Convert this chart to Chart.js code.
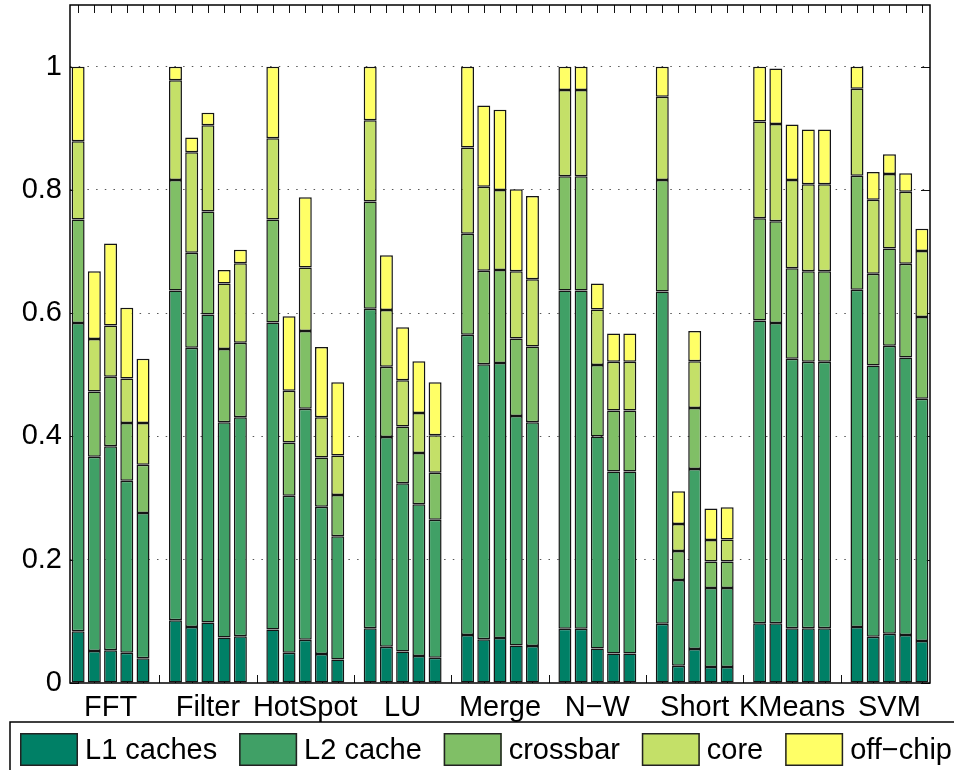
<!DOCTYPE html>
<html>
<head>
<meta charset="utf-8">
<title>Energy breakdown</title>
<script src="https://cdn.jsdelivr.net/npm/chart.js@4.4.1/dist/chart.umd.min.js"></script>
<style>
  html, body { margin: 0; padding: 0; background: #fff; }
  canvas { display: block; }
</style>
</head>
<body>
<canvas id="energyChart" width="954" height="770"></canvas>
<script>
// benchmarks, five configurations (bars) each
const benchmarks = ['FFT', 'Filter', 'HotSpot', 'LU', 'Merge', 'N\u2212W', 'Short', 'KMeans', 'SVM'];
const barsPerGroup = 5;
const yTicks = [0, 0.2, 0.4, 0.6, 0.8, 1];

const seriesNames = ['L1 caches', 'L2 cache', 'crossbar', 'core', 'off\u2212chip'];
const seriesColors = ['#008066', '#40a066', '#80bf66', '#c4e068', '#ffff66'];

// stacked segment heights, listed benchmark by benchmark (5 bars each)
const l1Caches = [
  0.084, 0.052, 0.053, 0.049, 0.040,
  0.102, 0.091, 0.098, 0.074, 0.076,
  0.087, 0.049, 0.070, 0.047, 0.038,
  0.089, 0.059, 0.051, 0.044, 0.041,
  0.078, 0.071, 0.073, 0.061, 0.060,
  0.088, 0.088, 0.056, 0.048, 0.048,
  0.096, 0.028, 0.055, 0.026, 0.026,
  0.097, 0.097, 0.089, 0.089, 0.089,
  0.091, 0.075, 0.080, 0.078, 0.068
];
const l2Cache = [
  0.500, 0.315, 0.331, 0.279, 0.236,
  0.535, 0.453, 0.500, 0.349, 0.355,
  0.498, 0.255, 0.375, 0.239, 0.200,
  0.518, 0.340, 0.273, 0.246, 0.224,
  0.487, 0.446, 0.446, 0.372, 0.363,
  0.549, 0.549, 0.344, 0.295, 0.295,
  0.539, 0.139, 0.292, 0.128, 0.128,
  0.491, 0.487, 0.437, 0.432, 0.432,
  0.547, 0.440, 0.467, 0.450, 0.393
];
const crossbar = [
  0.168, 0.106, 0.113, 0.094, 0.078,
  0.179, 0.154, 0.167, 0.119, 0.121,
  0.167, 0.086, 0.126, 0.080, 0.067,
  0.174, 0.114, 0.092, 0.083, 0.076,
  0.164, 0.152, 0.151, 0.126, 0.123,
  0.185, 0.185, 0.116, 0.099, 0.099,
  0.181, 0.047, 0.099, 0.043, 0.043,
  0.166, 0.165, 0.147, 0.147, 0.147,
  0.185, 0.149, 0.158, 0.152, 0.133
];
const core = [
  0.127, 0.085, 0.083, 0.072, 0.068,
  0.162, 0.163, 0.140, 0.106, 0.129,
  0.132, 0.084, 0.103, 0.065, 0.064,
  0.132, 0.092, 0.075, 0.065, 0.061,
  0.140, 0.136, 0.130, 0.109, 0.109,
  0.140, 0.140, 0.090, 0.079, 0.079,
  0.135, 0.044, 0.076, 0.035, 0.036,
  0.157, 0.158, 0.143, 0.141, 0.141,
  0.141, 0.120, 0.121, 0.117, 0.107
];
const offChip = [
  0.121, 0.110, 0.133, 0.115, 0.104,
  0.022, 0.024, 0.020, 0.022, 0.022,
  0.116, 0.121, 0.114, 0.114, 0.119,
  0.087, 0.089, 0.086, 0.084, 0.086,
  0.131, 0.132, 0.130, 0.133, 0.135,
  0.038, 0.038, 0.042, 0.046, 0.046,
  0.049, 0.053, 0.049, 0.051, 0.052,
  0.089, 0.090, 0.090, 0.089, 0.089,
  0.036, 0.045, 0.032, 0.030, 0.036
];
const seriesValues = [l1Caches, l2Cache, crossbar, core, offChip];

// x axis is one slot per bar plus one empty slot between benchmarks
const slotsPerGroup = barsPerGroup + 1;
const slotCount = benchmarks.length * slotsPerGroup - 1;
const slotLabels = [];
for (let s = 0; s < slotCount; s++) {
  slotLabels.push(s % slotsPerGroup === 2 ? benchmarks[Math.floor(s / slotsPerGroup)] : '');
}
function toSlots(values) {
  const out = [];
  for (let s = 0; s < slotCount; s++) {
    const g = Math.floor(s / slotsPerGroup), b = s % slotsPerGroup;
    out.push(b < barsPerGroup ? values[g * barsPerGroup + b] : null);
  }
  return out;
}

const FONT = "'Liberation Sans', Arial, Helvetica, sans-serif";

// box around the plot, inward ticks and the boxed legend underneath
const axesBox = {
  id: 'axesBox',
  beforeDatasetsDraw(chart) {
    const { ctx, chartArea: a, scales } = chart;
    ctx.save();
    ctx.strokeStyle = '#111';
    ctx.lineWidth = 1;
    ctx.beginPath();
    yTicks.forEach(v => {
      const py = Math.round(scales.y.getPixelForValue(v)) + 0.5;
      ctx.moveTo(a.left, py); ctx.lineTo(a.left + 9, py);
      ctx.moveTo(a.right, py); ctx.lineTo(a.right - 9, py);
    });
    for (let i = 0; i < slotCount; i++) {
      const px = Math.round(scales.x.getPixelForTick(i)) + 0.5;
      ctx.moveTo(px, a.top); ctx.lineTo(px, a.top + 8);
      ctx.moveTo(px, a.bottom); ctx.lineTo(px, a.bottom - 8);
    }
    ctx.stroke();
    ctx.restore();
  },
  afterDraw(chart) {
    const { ctx, chartArea: a } = chart;
    ctx.save();
    ctx.strokeStyle = '#000';
    ctx.lineWidth = 1.5;
    ctx.strokeRect(a.left, a.top, a.right - a.left, a.bottom - a.top);

    // legend
    ctx.lineWidth = 1.5;
    ctx.strokeRect(10, 722, 960, 100);
    ctx.font = '29px ' + FONT;
    ctx.textBaseline = 'middle';
    ctx.fillStyle = '#000';
    const sw = 58, sh = 33, gapText = 7, startX = 20, endX = 952, top = 733;
    const widths = seriesNames.map(n => ctx.measureText(n).width);
    const used = widths.reduce((s, w) => s + w, 0) + seriesNames.length * (sw + gapText);
    const gap = (endX - startX - used) / (seriesNames.length - 1);
    let x = startX;
    seriesNames.forEach((name, i) => {
      ctx.fillStyle = seriesColors[i];
      ctx.fillRect(x, top, sw, sh);
      ctx.lineWidth = 1.5;
      ctx.strokeStyle = '#222';
      ctx.strokeRect(x + 0.75, top + 0.75, sw - 1.5, sh - 1.5);
      ctx.fillStyle = '#000';
      ctx.fillText(name, x + sw + gapText, top + sh / 2 + 1);
      x += sw + gapText + widths[i] + gap;
    });
    ctx.restore();
  }
};

const chartData = {
  labels: slotLabels,
  datasets: seriesNames.map((name, i) => ({
    label: name,
    data: toSlots(seriesValues[i]),
    backgroundColor: seriesColors[i],
    borderColor: '#151515',
    borderWidth: 1.5,
    borderSkipped: false,
    categoryPercentage: 1.0,
    barPercentage: 0.8
  }))
};

const chartConfig = {
  type: 'bar',
  data: chartData,
  options: {
    responsive: false,
    animation: false,
    devicePixelRatio: 1,
    layout: { padding: { left: 0, right: 24, top: 5, bottom: 0 } },
    plugins: { legend: { display: false }, tooltip: { enabled: false } },
    scales: {
      x: {
        stacked: true,
        grid: { display: false, drawTicks: false },
        border: { display: false },
        ticks: {
          autoSkip: false, maxRotation: 0, minRotation: 0, padding: 8,
          color: '#000', font: { family: FONT, size: 29 }
        },
        afterFit(s) { s.height = 87; s.paddingLeft = 0; s.paddingRight = 0; }
      },
      y: {
        stacked: true,
        min: 0,
        max: 1.1,
        grid: {
          drawTicks: false,
          lineWidth: 1,
          color: c => (c.tick && c.tick.value > 0 ? '#555' : 'rgba(0,0,0,0)')
        },
        border: { display: false, dash: [1.5, 7.2] },
        ticks: {
          stepSize: 0.2, includeBounds: false, padding: 8, color: '#000',
          font: { family: FONT, size: 29 },
          callback: v => String(Math.round(v * 10) / 10)
        },
        afterFit(s) { s.width = 70; s.paddingTop = 0; s.paddingBottom = 0; }
      }
    }
  },
  plugins: [axesBox]
};

const energyChart = new Chart(document.getElementById('energyChart'), chartConfig);
</script>
</body>
</html>
